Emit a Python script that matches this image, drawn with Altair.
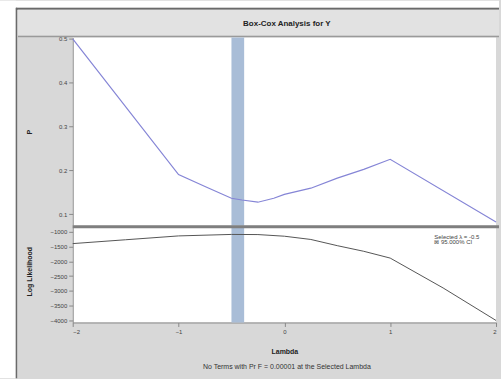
import altair as alt
import pandas as pd

# ---- data ----
p_lambda = [-2, -1, -0.75, -0.5, -0.4, -0.25, -0.1, 0, 0.25, 0.5, 0.75, 1, 2]
p_value = [0.5, 0.19, 0.163, 0.136, 0.132, 0.127, 0.136, 0.145, 0.159, 0.182, 0.202, 0.225, 0.082]

ll_lambda = [-2, -1.5, -1, -0.5, -0.25, 0, 0.25, 0.5, 0.75, 1, 1.5, 2]
ll_value = [-1400, -1270, -1140, -1090, -1095, -1150, -1260, -1470, -1660, -1890, -2900, -4000]

ci_low = [-0.5]
ci_high = [-0.38]

x_ticks = [-2, -1, 0, 1, 2]
p_ticks = [0.1, 0.2, 0.3, 0.4, 0.5]
ll_ticks = [-1000, -1500, -2000, -2500, -3000, -3500, -4000]

title_text = "Box-Cox Analysis for Y"
legend_lines = ["Selected \u03bb = -0.5", "\u22a0 95.000% CI"]
footnote = "No Terms with Pr F = 0.00001 at the Selected Lambda"

FONT = "Liberation Sans"
BG = "#d8d8d8"

p_df = pd.DataFrame({"lam": p_lambda, "p": p_value})
ll_df = pd.DataFrame({"lam": ll_lambda, "ll": ll_value})
ci_df = pd.DataFrame({"lo": ci_low, "hi": ci_high})

W = 425
H_TOP = 189
H_BOT = 97
RIGHT = 428  # right edge of decorations, relative to plot left

xscale = alt.Scale(domain=[-2, 2], nice=False, zero=False)

axis_common = dict(
    labelFont=FONT, labelFontSize=6, labelColor="#444444",
    titleFont=FONT, titleFontSize=7, titleFontWeight="bold", titleColor="#222222",
    domainColor="#888888", tickColor="#888888", tickSize=4, grid=False,
    labelPadding=2,
)

# ---------- top panel ----------
band_top = alt.Chart(ci_df).mark_rect(color="#a9bdd7", opacity=1).encode(
    x=alt.X("lo:Q", scale=xscale, axis=None),
    x2="hi:Q",
)

line_top = alt.Chart(p_df).mark_line(color="#8585d6", strokeWidth=1.2).encode(
    x=alt.X("lam:Q", scale=xscale, axis=None),
    y=alt.Y("p:Q", scale=alt.Scale(domain=[0.073, 0.503], nice=False, zero=False),
            axis=alt.Axis(values=p_ticks, format=".1f", title="P", titleX=-43,
                          titleY=H_TOP / 2, titleAngle=-90, titleBaseline="middle",
                          **axis_common)),
)

deco_df = pd.DataFrame({"k": [0]})
# outer white margins and title band (decoration only)
white_left = alt.Chart(deco_df).mark_rect(color="white").encode(
    x=alt.value(-73), x2=alt.value(-57), y=alt.value(-37), y2=alt.value(342))
white_top = alt.Chart(deco_df).mark_rect(color="white").encode(
    x=alt.value(-73), x2=alt.value(RIGHT), y=alt.value(-37), y2=alt.value(-30))
border_left = alt.Chart(deco_df).mark_rule(color="#6a6a6a", strokeWidth=1.5).encode(
    x=alt.value(-56.5), y=alt.value(-30), y2=alt.value(342))
border_top = alt.Chart(deco_df).mark_rule(color="#6a6a6a", strokeWidth=2).encode(
    x=alt.value(-57), x2=alt.value(RIGHT), y=alt.value(-29))
title_band = alt.Chart(deco_df).mark_rect(color="#e2e2e2").encode(
    x=alt.value(-55), x2=alt.value(RIGHT), y=alt.value(-28), y2=alt.value(-2))
title_line = alt.Chart(deco_df).mark_rule(color="#9a9a9a", strokeWidth=1.5).encode(
    x=alt.value(-55), x2=alt.value(RIGHT), y=alt.value(-1))
title_mark = alt.Chart(deco_df).mark_text(
    text=title_text, font=FONT, fontSize=8, fontWeight="bold", color="#222222",
    align="center", baseline="middle").encode(x=alt.value(215), y=alt.value(-14))

top = alt.layer(
    white_left, white_top, border_left, border_top, title_band, title_line,
    band_top, line_top, title_mark,
).properties(width=W, height=H_TOP)

# ---------- bottom panel ----------
band_bot = alt.Chart(ci_df).mark_rect(color="#a9bdd7", opacity=1).encode(
    x=alt.X("lo:Q", scale=xscale),
    x2="hi:Q",
)

line_bot = alt.Chart(ll_df).mark_line(color="#555555", strokeWidth=1).encode(
    x=alt.X("lam:Q", scale=xscale,
            axis=alt.Axis(values=x_ticks, format="d", title="Lambda",
                          titleY=29, titleBaseline="middle", **axis_common)),
    y=alt.Y("ll:Q", scale=alt.Scale(domain=[-4068, -800], nice=False, zero=False),
            axis=alt.Axis(values=ll_ticks, format="d", title="Log Likelihood",
                          titleX=-43, titleY=H_BOT / 2 - 3, titleAngle=-90,
                          titleBaseline="middle", **axis_common)),
)

divider = alt.Chart(deco_df).mark_rule(color="#7f7f7f", strokeWidth=3).encode(
    x=alt.value(0), x2=alt.value(RIGHT), y=alt.value(1))

legend_df = pd.DataFrame({"t": legend_lines, "row": [0, 1]})
legend = alt.Chart(legend_df).mark_text(
    font=FONT, fontSize=6, color="#444444", align="left", baseline="middle"
).encode(
    text="t:N",
    x=alt.value(363),
    y=alt.Y("row:O", axis=None, scale=alt.Scale(range=[9, 19])),
)

foot = alt.Chart(deco_df).mark_text(
    text=footnote, font=FONT, fontSize=7, color="#333333",
    align="center", baseline="middle").encode(x=alt.value(215), y=alt.value(H_BOT + 45))

bottom = alt.layer(band_bot, line_bot, divider, legend, foot).properties(
    width=W, height=H_BOT
).resolve_scale(y="independent")

chart = alt.vconcat(top, bottom, spacing=0, bounds="flush").configure(
    background=BG, padding=0
).configure_view(stroke=None, fill="white")

chart.save("out.html", embed_options={"renderer": "svg", "actions": False})
